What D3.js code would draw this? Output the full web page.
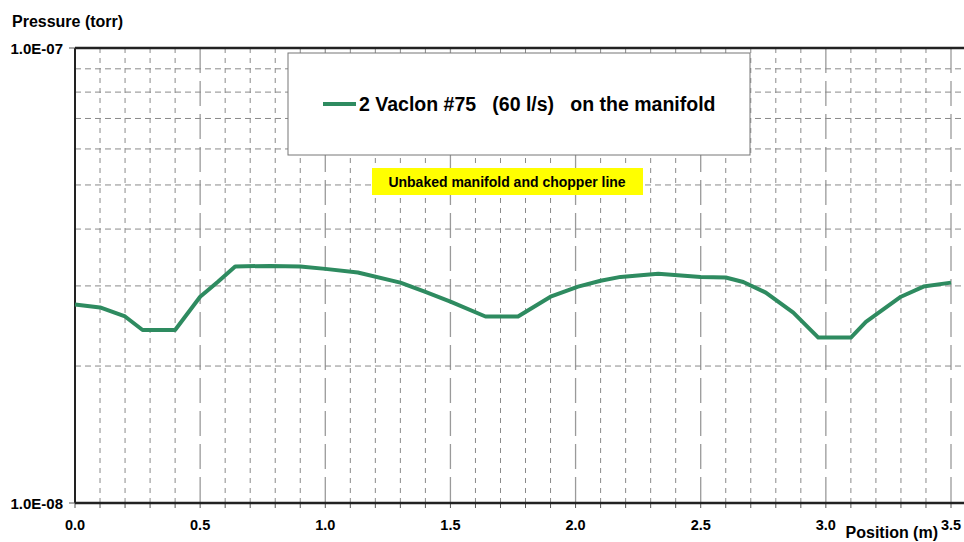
<!DOCTYPE html>
<html>
<head>
<meta charset="utf-8">
<script src="https://cdn.jsdelivr.net/npm/d3@7"></script>
<style>
  body { margin: 0; background: #fff; }
  svg { display: block; font-family: "Liberation Sans", Arial, sans-serif; }
  text { white-space: pre; }
</style>
</head>
<body>
<svg id="chart" width="964" height="542"></svg>
<script>
// position along the line (m) and pressure (torr)
var positions = [0.00, 0.10, 0.20, 0.27, 0.40, 0.50, 0.57, 0.64, 0.78, 0.90, 1.00, 1.13, 1.30, 1.40, 1.50,
                 1.64, 1.77, 1.90, 2.01, 2.10, 2.18, 2.33, 2.50, 2.60, 2.67, 2.76, 2.87, 2.97, 3.10, 3.16,
                 3.30, 3.39, 3.50];
var pressures = [2.73e-8, 2.69e-8, 2.57e-8, 2.40e-8, 2.40e-8, 2.84e-8, 3.06e-8, 3.31e-8, 3.32e-8, 3.31e-8,
                 3.27e-8, 3.21e-8, 3.05e-8, 2.91e-8, 2.77e-8, 2.57e-8, 2.57e-8, 2.84e-8, 2.99e-8, 3.08e-8,
                 3.14e-8, 3.19e-8, 3.14e-8, 3.13e-8, 3.06e-8, 2.90e-8, 2.62e-8, 2.31e-8, 2.31e-8, 2.50e-8,
                 2.84e-8, 2.99e-8, 3.05e-8];
var xTickLabels = ["0.0", "0.5", "1.0", "1.5", "2.0", "2.5", "3.0", "3.5"];
var yTickValues = [1e-8, 1e-7];
var yTickLabels = ["1.0E-08", "1.0E-07"];
var seriesName = "2 Vaclon #75   (60 l/s)   on the manifold";
var noteText = "Unbaked manifold and chopper line";

(function() {
    var svg = d3.select("#chart");
    var pl = 75, pr = 951, pt = 48, pb = 503, edge = 964;

    var x = d3.scaleLinear().domain([0, 3.5]).range([pl, pr]);
    var y = d3.scaleLog().domain([1e-8, 1e-7]).range([pb, pt]);

    var data = positions.map(function(p, i) { return {x: p, y: pressures[i]}; });

    function isMajor(d) { return Math.round(d * 10) % 5 == 0; }

    // vertical grid every 0.1 m, long dashes on the half metres
    var xGrid = d3.range(1, 36).map(function(i) { return i / 10; });
    svg.append("g").selectAll("line")
        .data(xGrid)
      .enter().append("line")
        .attr("x1", function(d) { return x(d); })
        .attr("x2", function(d) { return x(d); })
        .attr("y1", pt)
        .attr("y2", pb)
        .attr("stroke", function(d) { return isMajor(d) ? "#9a9a9a" : "#8a8a8a"; })
        .attr("stroke-width", function(d) { return isMajor(d) ? 1.3 : 1; })
        .attr("stroke-dasharray", function(d) { return isMajor(d) ? "25,8" : "5,5"; });

    // horizontal grid on the log minors
    var yGrid = d3.range(2, 10).map(function(i) { return i * 1e-8; });
    svg.append("g").selectAll("line")
        .data(yGrid)
      .enter().append("line")
        .attr("x1", pl)
        .attr("x2", edge)
        .attr("y1", function(d) { return y(d); })
        .attr("y2", function(d) { return y(d); })
        .attr("stroke", "#8a8a8a")
        .attr("stroke-dasharray", "6,4");

    // x ticks below the axis
    svg.append("g").selectAll("line")
        .data(d3.range(0, 36).map(function(i) { return i / 10; }))
      .enter().append("line")
        .attr("x1", function(d) { return x(d); })
        .attr("x2", function(d) { return x(d); })
        .attr("y1", pb)
        .attr("y2", pb + 5)
        .attr("stroke", "#555");

    // frame
    svg.append("line").attr("x1", pl).attr("x2", edge).attr("y1", pt).attr("y2", pt)
        .attr("stroke", "#222").attr("stroke-width", 2.5);
    svg.append("line").attr("x1", pl).attr("x2", edge).attr("y1", pb).attr("y2", pb)
        .attr("stroke", "#222").attr("stroke-width", 2.5);
    svg.append("line").attr("x1", pl).attr("x2", pl).attr("y1", pt).attr("y2", pb)
        .attr("stroke", "#222").attr("stroke-width", 2);

    // y ticks and labels
    yTickValues.forEach(function(v, i) {
        svg.append("line").attr("x1", pl - 6).attr("x2", pl).attr("y1", y(v)).attr("y2", y(v))
            .attr("stroke", "#555");
        svg.append("text")
            .attr("x", 63).attr("y", y(v) + 5.5)
            .attr("text-anchor", "end")
            .attr("font-size", 15).attr("font-weight", "bold")
            .text(yTickLabels[i]);
    });

    // x labels
    svg.append("g").selectAll("text")
        .data(xTickLabels)
      .enter().append("text")
        .attr("x", function(d) { return x(+d); })
        .attr("y", 530)
        .attr("text-anchor", "middle")
        .attr("font-size", 14.5).attr("font-weight", "bold")
        .text(function(d) { return d; });

    // axis titles
    svg.append("text").attr("x", 12).attr("y", 27)
        .attr("font-size", 16).attr("font-weight", "bold").text("Pressure (torr)");
    svg.append("text").attr("x", 938).attr("y", 538).attr("text-anchor", "end")
        .attr("font-size", 16).attr("font-weight", "bold").text("Position (m)");

    // the curve
    var line = d3.line()
        .x(function(d) { return x(d.x); })
        .y(function(d) { return y(d.y); });

    svg.append("path")
        .datum(data)
        .attr("d", line)
        .attr("fill", "none")
        .attr("stroke", "#2e8b60")
        .attr("stroke-width", 4)
        .attr("stroke-linejoin", "round");

    // legend box
    svg.append("rect").attr("x", 288).attr("y", 53).attr("width", 462).attr("height", 102)
        .attr("fill", "#fff").attr("stroke", "#777").attr("stroke-width", 1);
    svg.append("line").attr("x1", 323).attr("x2", 356).attr("y1", 104).attr("y2", 104)
        .attr("stroke", "#2e8b60").attr("stroke-width", 4);
    svg.append("text").attr("x", 359).attr("y", 111)
        .attr("font-size", 19.5).attr("font-weight", "bold").text(seriesName);

    // note
    svg.append("rect").attr("x", 372).attr("y", 168).attr("width", 271).attr("height", 27)
        .attr("fill", "#ffff00");
    svg.append("text").attr("x", 507).attr("y", 187).attr("text-anchor", "middle")
        .attr("font-size", 14).attr("font-weight", "bold").text(noteText);
})();
</script>
</body>
</html>
